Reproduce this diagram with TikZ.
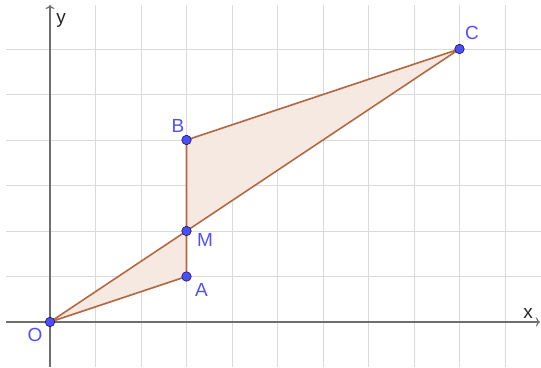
\documentclass[tikz,border=0pt]{standalone}
\usepackage{fontspec}
\setmainfont{Liberation Sans}
\usetikzlibrary{arrows.meta}
\definecolor{gridc}{RGB}{218,218,218}
\definecolor{axisc}{RGB}{110,110,110}
\definecolor{edgec}{RGB}{181,104,66}
\definecolor{fillc}{RGB}{245,233,226}
\definecolor{ptc}{RGB}{77,77,255}
\definecolor{labc}{RGB}{80,80,255}
\tikzset{
  pt/.style={circle,draw=black!70!ptc,fill=ptc,line width=0.6pt,inner sep=0pt,minimum size=9.5pt},
  lab/.style={text=labc,font=\fontsize{19}{21}\selectfont,inner sep=0pt},
  axlab/.style={text=black!85,font=\fontsize{19}{21}\selectfont,inner sep=0pt,anchor=base},
  edge/.style={draw=edgec,line width=1.6pt},
}
\begin{document}
\begin{tikzpicture}[x=45.5pt,y=45.5pt]
\useasboundingbox (-50pt,-45pt) rectangle (491pt,322pt);
% grid
\foreach \i in {1,...,10} \draw[gridc,line width=0.8pt] (\i,-45pt) -- (\i,317pt);
\foreach \j in {1,...,6} \draw[gridc,line width=0.8pt] (-44pt,\j) -- (491pt,\j);
% axes
\coordinate (xs) at (-44pt,0);
\coordinate (xe) at (490pt,0);
\coordinate (ys) at (0,-45pt);
\coordinate (ye) at (0,317pt);
\draw[axisc,line width=1.1pt,-{To[length=4pt,width=9pt]}] (xs) -- (xe);
\draw[axisc,line width=1.1pt,-{To[length=4pt,width=9pt]}] (ys) -- (ye);
\node[axlab] (xl) at (478pt,4pt) {x};
\node[axlab] (yl) at (11pt,298pt) {y};
% points
\coordinate (o) at (0,0);
\coordinate (a) at (3,1);
\coordinate (m) at (3,2);
\coordinate (b) at (3,4);
\coordinate (c) at (9,6);
\fill[fillc] (o) -- (a) -- (m) -- cycle;
\fill[fillc] (m) -- (b) -- (c) -- cycle;
\draw[edge,line join=round] (o) -- (a) -- (m) -- cycle;
\draw[edge,line join=round] (m) -- (b) -- (c) -- cycle;
\node[pt] (O) at (o) {};
\node[pt] (A) at (a) {};
\node[pt] (M) at (m) {};
\node[pt] (B) at (b) {};
\node[pt] (C) at (c) {};
\node[lab] (lO) at (-15pt,-12.5pt) {O};
\node[lab] (lA) at (151.5pt,32pt) {A};
\node[lab] (lM) at (155pt,82pt) {M};
\node[lab] (lB) at (128pt,196pt) {B};
\node[lab] (lC) at (422pt,289pt) {C};
\end{tikzpicture}
\end{document}
